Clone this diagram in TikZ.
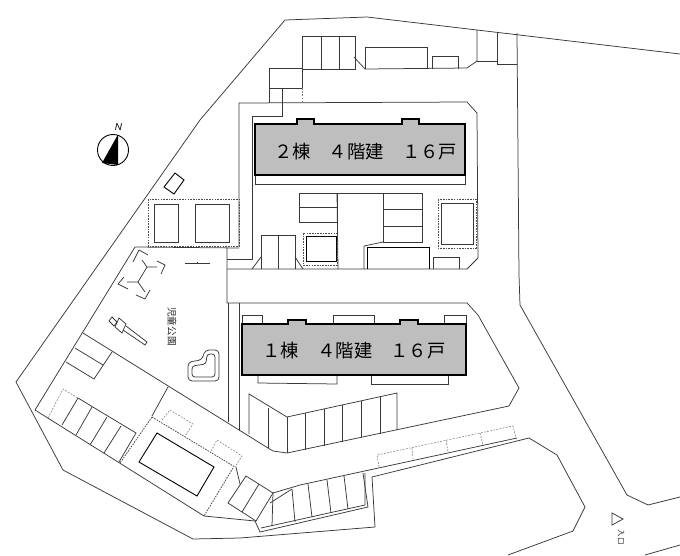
\documentclass[tikz,border=0pt]{standalone}
\usepackage{fontspec}
\newfontfamily\jpfont{Noto Sans CJK JP}
\setsansfont{Liberation Sans}
\definecolor{bldggray}{HTML}{BEBEBE}
\tikzset{
  wall/.style={draw=black!78,line width=.75pt,line join=miter},
  bold/.style={draw=black,line width=.9pt},
  fence/.style={draw=black!70,line width=.8pt,dash pattern=on 1.6pt off 1.1pt},
  slot/.style={draw=black!50,line width=.6pt,dash pattern=on 1.8pt off 1.4pt},
  bldg/.style={draw=black,line width=1.5pt,fill=bldggray},
  bldglabel/.style={font=\jpfont\fontsize{18.3}{20}\selectfont,text=black,inner sep=0pt},
  smalllabel/.style={font=\jpfont,text=black!85,inner sep=0pt,rotate=-90}
}
\begin{document}
\begin{tikzpicture}[x=1pt,y=-1pt]
  \useasboundingbox (0,0) rectangle (680,555);
  \begin{scope}
    % site boundary and roads
    \draw[wall] (680,54) -- (367,17) -- (285,20) -- (200,120) -- (16,382) -- (63,470) -- (193,539) -- (240,538) -- (375,527) -- (372,477) -- (529,438) -- (557,455) -- (585,507) -- (573,531) -- (508,555);
    \draw[wall] (517,33) -- (519,275) -- (520,305) -- (627,495) -- (648,505) -- (680,497);
    \draw[wall] (645,555) -- (680,545);

    % north parking
    \draw[wall] (302,69) -- (302,36) -- (355,36) -- (355,69) -- cycle;
    \draw[wall] (321,36) -- (321,69);
    \draw[wall] (339,36) -- (339,69);
    \draw[wall] (302,69) -- (302,88) -- (269,88);
    \draw[wall] (302,68) -- (269,68) -- (269,103);
    \draw[slot] (302,88) -- (302,102);
    \draw[wall] (354,57) -- (365,69) -- (467,68) -- (477,61) -- (477,30);
    \draw[wall] (365,69) -- (365,47) -- (427,47) -- (427,69);
    \draw[wall] (432,69) -- (432,56) -- (458,56) -- (458,69);
    \draw[wall] (477,61) -- (497,61);
    \draw[wall] (497,32) -- (497,64) -- (517,64);

    % block of building 2
    \draw[wall] (282,88) -- (282,116) -- (252,116) -- (252,259) -- (227,259);
    \draw[wall] (239,247) -- (239,103) -- (467,102) -- (477,113) -- (478,258) -- (467,269) -- (227,269);
    \draw[wall] (135,247) -- (239,248);
    \draw[wall] (227,247) -- (227,303) -- (467,303) -- (478,315) -- (519,388) -- (509,406) -- (287,453) -- (273,451) -- (268,448) -- (83,333);
    \draw[wall] (239,303) -- (239,431);
    \draw[wall] (228,303) -- (228,422);
    \draw[wall] (255,175) -- (255,184) -- (465,184) -- (465,175);

    % court between the buildings
    \draw[wall] (299,193) rectangle (337,222);
    \draw[wall] (299,207) -- (337,207);
    \draw[wall] (337,193) -- (338,269);
    \draw[wall] (337,193) -- (383,193);
    \draw[wall] (383,193) rectangle (422,242);
    \draw[wall] (383,209) -- (422,209);
    \draw[wall] (383,226) -- (422,226);
    \draw[wall] (383,242) -- (364,246) -- (364,269);
    \draw[bold] (367,269) -- (367,247) -- (429,247) -- (429,269);
    \draw[wall] (433,269) -- (433,257) -- (459,257) -- (459,269);
    \draw[fence] (438,199) rectangle (476,248);
    \draw[wall] (441,203) rectangle (473,244);
    \draw[fence] (303,233) rectangle (337,265);
    \draw[bold] (306,236) rectangle (336,261);
    \draw[wall] (261,269) -- (261,235) -- (295,235) -- (295,269);
    \draw[wall] (278,235) -- (278,269);
    \draw[wall] (252,269) -- (261,257);
    \draw[wall] (295,257) -- (303,269);

    % west bike sheds
    \draw[fence] (148,199) rectangle (239,246);
    \draw[wall] (154,204) rectangle (178,242);
    \draw[wall] (195,204) rectangle (229,242);
    \draw[bold] (175,173) -- (184,180) -- (174,194) -- (164,187) -- cycle;

    % buildings
    \draw[bldg] (255,124) -- (297,124) -- (297,119) -- (314,119) -- (314,124) -- (402,124) -- (402,119) -- (419,119) -- (419,124) -- (465,124) -- (465,175) -- (255,175) -- cycle;
    \draw[wall] (242,324) -- (242,315) -- (262,315) -- (262,324);
    \draw[wall] (333,324) -- (333,315) -- (374,315) -- (374,324);
    \draw[wall] (444,324) -- (444,315) -- (466,315) -- (466,324);
    \draw[wall] (258,375) -- (258,383) -- (337,384) -- (337,375);
    \draw[wall] (371,375) -- (371,384) -- (448,384) -- (448,375);
    \draw[bldg] (242,324) -- (288,324) -- (288,320) -- (306,320) -- (306,324) -- (400,324) -- (400,320) -- (418,320) -- (418,324) -- (466,324) -- (466,375) -- (242,375) -- cycle;
    \node[bldglabel] (label2) at (365.5,152) {２棟　４階建　１６戸};
    \node[bldglabel] (label1) at (354,351) {１棟　４階建　１６戸};

    % parking south of building 1
    \draw[wall] (249,434) -- (249,394) -- (287,417) -- (397,393) -- (397,430);
    \draw[wall] (268,408) -- (268,448);
    \draw[wall] (287,417) -- (287,453);
    \draw[wall] (305,413) -- (305,450);
    \draw[wall] (324,409) -- (324,446);
    \draw[wall] (342,405) -- (342,442);
    \draw[wall] (361,401) -- (361,437);
    \draw[wall] (380,397) -- (380,434);

    % west side
    \draw[wall] (135,247) -- (35,410) -- (118,462) -- (204,516) -- (255,521) -- (260,532) -- (368,507) -- (363,473);
    \draw[wall] (75,348) -- (103,365);
    \draw[wall] (112,352) -- (94,379) -- (66,362);
    \draw[slot] (48,418) -- (63,389) -- (78,398);
    \draw[wall] (78,398) -- (136,433) -- (119,462);
    \draw[wall] (78,398) -- (62,425);
    \draw[wall] (92,407) -- (76,435);
    \draw[wall] (107,417) -- (90,445);
    \draw[wall] (121,426) -- (104,453);
    \draw[wall] (168,387) -- (152,416);
    \draw[fence] (152,417) -- (235,467);
    \draw[fence] (152,417) -- (120,463);
    \draw[slot] (162,420) -- (170,410) -- (193,424) -- (185,436);
    \draw[slot] (211,451) -- (217,440) -- (242,456) -- (235,467);
    \draw[fence] (233,468) -- (204,516);
    \draw[wall] (236,467) -- (240,484);
    \draw[bold] (157,433) -- (214,467) -- (197,496) -- (139,462) -- cycle;

    % south parking
    \draw[wall] (228,503) -- (246,476) -- (273,493) -- (256,521) -- cycle;
    \draw[wall] (259,484) -- (242,512);
    \draw[wall] (273,493) -- (300,485) -- (517,438);
    \draw[wall] (270,503) -- (292,489);
    \draw[wall] (261,528) -- (365,505) -- (365,473);
    \draw[wall] (273,493) -- (272,526);
    \draw[wall] (292,489) -- (295,522);
    \draw[wall] (308,484) -- (312,517);
    \draw[wall] (327,480) -- (331,513);
    \draw[wall] (344,476) -- (348,509);
    \draw[slot] (379,467) -- (377,455) -- (513,426) -- (516,438);
    \draw[slot] (412,448) -- (413,460);
    \draw[slot] (446,440) -- (448,452);
    \draw[slot] (480,433) -- (483,445);

    % play ground
    \draw[wall] (133,262) -- (139,250) -- (148,255);
    \draw[wall] (157,261) -- (165,265) -- (161,274);
    \draw[wall] (124,277) -- (118,284) -- (128,289);
    \draw[wall] (150,290) -- (145,299) -- (136,295);
    \draw[wall] (142,260) -- (147,267) -- (157,267);
    \draw[wall] (147,267) -- (138,282) -- (127,282);
    \draw[wall] (138,282) -- (145,292);
    \draw[wall] (185,263) -- (210,263);
    \draw[wall] (197,262) -- (197,264);
    \draw[wall] (126,326) -- (147,342) -- (145,345) -- (123,330);
    \draw[wall] (119,318) -- (126,324) -- (122,333) -- (115,327) -- cycle;
    \draw[wall] (112,317) -- (117,322) -- (114,326) -- (109,321) -- cycle;
    \draw[wall,rounded corners=4pt] (205,350) -- (219,350) -- (219,381) -- (188,381) -- (188,362) -- (202,360) -- cycle;
    \draw[wall,rounded corners=3pt] (207,354) -- (215,354) -- (215,377) -- (192,377) -- (192,366) -- (206,364) -- cycle;
    \node[smalllabel,font=\jpfont\fontsize{9.6}{10}\selectfont] (parklabel) at (172,326.5) {児童公園};

    % compass
    \draw[draw=black,line width=.9pt,fill=white] (113,150) circle (15.5);
    \fill[black] (118,134.5) -- (102,163) -- (118,165) -- cycle;
    \node[inner sep=0pt,font=\sffamily\itshape\fontsize{10}{10}\selectfont] (north) at (118.5,127) {N};

    % entrance
    \draw[wall] (612,513) -- (623,519) -- (612,525) -- cycle;
    \node[smalllabel,font=\jpfont\fontsize{7.5}{8}\selectfont] (entrance) at (621,537) {入口};
  \end{scope}
\end{tikzpicture}
\end{document}
